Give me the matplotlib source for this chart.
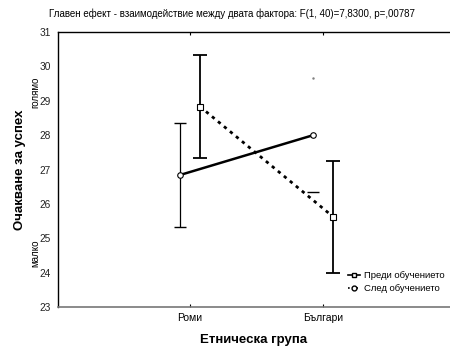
import numpy as np
import matplotlib.pyplot as plt
from matplotlib.lines import Line2D

plt.rcParams['font.family'] = ['Liberation Sans', 'DejaVu Sans']

# Средни стойности и грешки по групи
groups = ['Роми', 'Българи']
before_mean = [26.84, 28.0]
before_err = [1.5, 1.65]
after_mean = [28.83, 25.62]
after_err = [1.5, 1.63]

title = 'Главен ефект - взаимодействие между двата фактора: F(1, 40)=7,8300, p=,00787'

fig = plt.figure(figsize=(4.5, 3.46), dpi=100)
ax = fig.add_axes([58 / 450, 39 / 346, 1 - 58 / 450, 275 / 346])

x = np.arange(len(groups))
shift = 0.075

# Преди обучението - плътна линия, кръгчета
ax.plot(x - shift, before_mean, '-', color='black', lw=1.8, zorder=3)
ax.errorbar(x[0] - shift, before_mean[0], yerr=before_err[0], fmt='none',
            ecolor='black', elinewidth=0.9, capsize=4.5, capthick=1.0, zorder=2)
# при българите се вижда само долното рамо на грешката
ax.plot(x[1] - shift, before_mean[1] - before_err[1], marker='_', ms=9,
        mew=1.0, color='black', linestyle='none')
ax.plot(x[1] - shift, before_mean[1] + before_err[1], marker='.', ms=1.5,
        color='gray', linestyle='none')
ax.plot(x - shift, before_mean, 'o', ms=4, mfc='white', mec='black',
        mew=0.8, linestyle='none', zorder=4)

# След обучението - пунктир, квадратчета
ax.plot(x + shift, after_mean, color='black', lw=2.0,
        linestyle=(0, (1.2, 1.6)), zorder=3)
ax.errorbar(x + shift, after_mean, yerr=after_err, fmt='none',
            ecolor='black', elinewidth=1.3, capsize=5, capthick=1.3, zorder=2)
ax.plot(x + shift, after_mean, 's', ms=4, mfc='white', mec='black',
        mew=0.8, linestyle='none', zorder=4)

ax.set_xlim(-0.99, 1.95)
ax.set_ylim(23, 31)
ax.set_yticks(range(23, 32))
ax.set_xticks(x)
ax.set_xticklabels(groups, fontsize=7.5)
ax.tick_params(axis='y', length=0, labelsize=7.3, pad=5, colors='#222222')
ax.tick_params(axis='x', direction='in', length=2.5, width=0.8,
               top=True, pad=4)

ax.spines['right'].set_visible(False)
for s in ['left', 'top']:
    ax.spines[s].set_linewidth(1.0)
ax.spines['bottom'].set_linewidth(1.2)
ax.spines['bottom'].set_color('#777777')

ax.set_xlabel('Етническа група', fontsize=9.5, fontweight='bold', labelpad=8)
ax.set_ylabel('Очакване за успех', fontsize=9.5, fontweight='bold', labelpad=10)

fig.text(35 / 450, 1 - 92 / 346, 'голямо', rotation=90, fontsize=7,
         ha='center', va='center')
fig.text(35 / 450, 1 - 253 / 346, 'малко', rotation=90, fontsize=7,
         ha='center', va='center')
fig.text(232 / 450, 1 - 14 / 346, title, fontsize=7, ha='center', va='center')

handles = [
    Line2D([], [], color='black', lw=1.2, marker='s', ms=3.5, mfc='white',
           mec='black'),
    Line2D([], [], color='black', lw=1.2, linestyle=(0, (1, 1.5)), marker='o',
           ms=3.5, mfc='white', mec='black'),
]
ax.legend(handles, ['Преди обучението', 'След обучението'], loc='lower right',
          bbox_to_anchor=(1.0, 0.03), frameon=False, fontsize=6.8,
          handlelength=1.3, handletextpad=0.4, labelspacing=0.45,
          borderaxespad=0.2)

fig.savefig('out.png', dpi=100)
